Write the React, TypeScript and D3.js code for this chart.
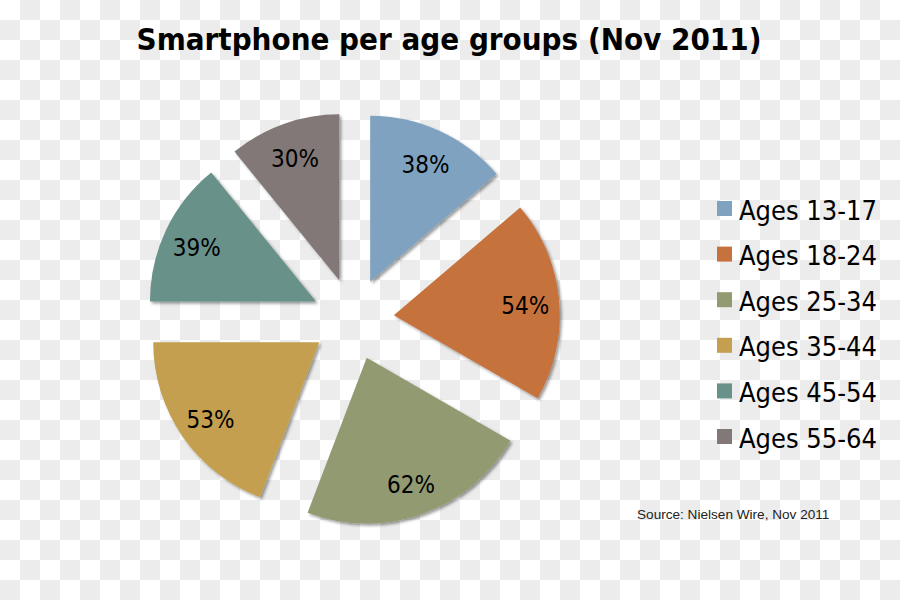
import { useMemo } from "react";
import * as d3 from "d3";

const WIDTH = 900;
const HEIGHT = 600;
const CENTER = { x: 353, y: 319 };
const RADIUS = 166;
const EXPLODE = 41;
const LABEL_RADIUS = 132;

const categories = [
  "Ages 13-17",
  "Ages 18-24",
  "Ages 25-34",
  "Ages 35-44",
  "Ages 45-54",
  "Ages 55-64",
];
const values = [38, 54, 62, 53, 39, 30];
const colors = ["#7ea2bf", "#c6723d", "#929a72", "#c39f4f", "#679189", "#817877"];

const FONT = "'DejaVu Sans Condensed', 'DejaVu Sans', sans-serif";

type Slice = { label: string; value: number; color: string };

export default function App() {
  const slices: Slice[] = categories.map((label, i) => ({
    label,
    value: values[i],
    color: colors[i],
  }));

  const arcs = useMemo(
    () =>
      d3
        .pie<Slice>()
        .sort(null)
        .value((d) => d.value)
        .startAngle(0)
        .endAngle(2 * Math.PI)(slices),
    []
  );

  const arcGen = d3.arc<d3.PieArcDatum<Slice>>().innerRadius(0).outerRadius(RADIUS);
  const labelArc = d3
    .arc<d3.PieArcDatum<Slice>>()
    .innerRadius(LABEL_RADIUS)
    .outerRadius(LABEL_RADIUS);

  const legendY = d3
    .scalePoint<string>()
    .domain(categories)
    .range([209, 437]);

  return (
    <div style={{ position: "absolute", left: 0, top: 0 }}>
      <svg width={WIDTH} height={HEIGHT} style={{ display: "block" }}>
        <defs>
          <pattern id="checker" width={40} height={40} patternUnits="userSpaceOnUse">
            <rect width={40} height={40} fill="#ffffff" />
            <rect x={20} y={0} width={20} height={20} fill="#ececec" />
            <rect x={0} y={20} width={20} height={20} fill="#ececec" />
          </pattern>
          <filter id="shadow" x="-20%" y="-20%" width="140%" height="140%">
            <feDropShadow dx={2} dy={2} stdDeviation={1.6} floodColor="#000" floodOpacity={0.4} />
          </filter>
        </defs>

        {/* Background */}
        <rect width={WIDTH} height={HEIGHT} fill="url(#checker)" />

        {/* Title */}
        <text
          x={449}
          y={50}
          textAnchor="middle"
          fontFamily={FONT}
          fontWeight="bold"
          fontSize={31}
          fill="#000"
        >
          Smartphone per age groups (Nov 2011)
        </text>

        {/* Exploded slices */}
        {arcs.map((a, i) => {
          const mid = (a.startAngle + a.endAngle) / 2;
          const dx = EXPLODE * Math.sin(mid);
          const dy = -EXPLODE * Math.cos(mid);
          const [lx, ly] = labelArc.centroid(a);
          return (
            <g key={i} transform={`translate(${CENTER.x + dx},${CENTER.y + dy})`}>
              <path d={arcGen(a) ?? ""} fill={a.data.color} filter="url(#shadow)" />
              <text
                x={lx}
                y={ly + 3}
                textAnchor="middle"
                dominantBaseline="central"
                fontFamily={FONT}
                fontSize={24}
                fill="#000"
              >
                {a.data.value}%
              </text>
            </g>
          );
        })}

        {/* Legend */}
        {slices.map((s) => {
          const y = legendY(s.label) ?? 0;
          return (
            <g key={s.label} transform={`translate(717,${y})`}>
              <rect x={0} y={-8} width={15} height={15} fill={s.color} />
              <text
                x={22}
                y={1}
                dominantBaseline="central"
                fontFamily={FONT}
                fontSize={27}
                fill="#000"
              >
                {s.label}
              </text>
            </g>
          );
        })}

        {/* Source */}
        <text x={637} y={519} fontFamily="'Liberation Sans', Arial, sans-serif" fontSize={13.6} fill="#222">
          Source: Nielsen Wire, Nov 2011
        </text>
      </svg>
    </div>
  );
}
